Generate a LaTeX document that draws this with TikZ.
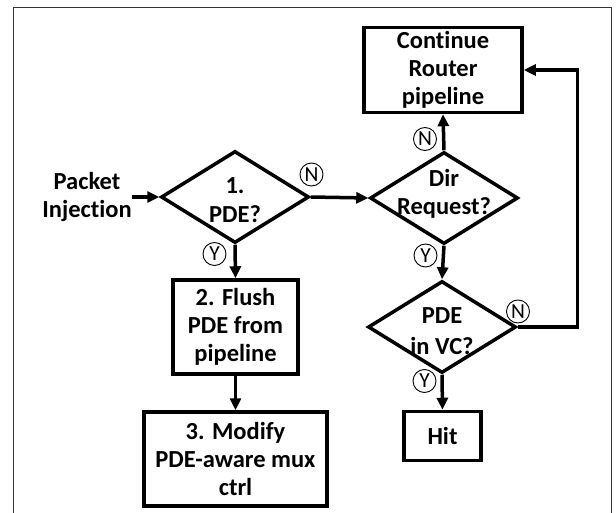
\documentclass[tikz,border=0pt]{standalone}
\usepackage{fontspec}
\setmainfont{Carlito}[Ligatures=NoCommon]
\usetikzlibrary{shapes.geometric,arrows.meta}
\begin{document}
\begin{tikzpicture}[x=1pt,y=-1pt,
  txt/.style={align=center,inner sep=0pt,font=\bfseries\fontsize{24.5}{28.3}\selectfont},
  box/.style={txt,draw,rectangle,line width=3.5pt},
  dia/.style={draw,diamond,line width=3.5pt,inner sep=0pt},
  yn/.style={circle,draw,line width=0.9pt,inner sep=0pt,minimum size=23pt,
    font=\fontsize{21.5}{21.5}\selectfont},
  flow/.style={-{Triangle[length=12pt,width=11pt]},line width=3.5pt},
  frame/.style={draw=black!80,line width=1.4pt}]
\useasboundingbox (0,0) rectangle (616,513);
\clip (0,0) rectangle (616,513);
\draw[frame] (13.5,7.5) rectangle (611.5,540);

% left column
\node[txt] (inj) at (87,197) {Packet\\Injection};
\node[dia,minimum width=148,minimum height=92] (pde) at (235,197) {};
\node[txt] (pdet) at (235,200) {1.\\PDE?};
\node[box,minimum width=125,minimum height=94] (flush) at (235.5,327) {2. Flush\\PDE from\\pipeline};
\node[box,minimum width=183,minimum height=94] (mod) at (235.5,459) {3. Modify\\PDE-aware mux\\ctrl};

% right column
\node[box,minimum width=158,minimum height=85] (cont) at (443,70) {Continue\\Router\\pipeline};
\node[dia,minimum width=148,minimum height=92] (dir) at (444,198) {};
\node[txt] (dirt) at (444,194) {Dir\\Request?};
\node[dia,minimum width=148,minimum height=92] (vc) at (442,327) {};
\node[txt,font=\bfseries\fontsize{24.5}{31}\selectfont] (vct) at (442,331) {PDE\\in VC?};
\node[box,minimum width=77,minimum height=49] (hit) at (442.5,436) {Hit};

% decision outcomes
\node[yn] (n1) at (311.5,174.5) {N};
\node[yn] (y1) at (214.5,254) {Y};
\node[yn] (n2) at (425,139) {N};
\node[yn] (y2) at (425.5,255.5) {Y};
\node[yn] (n3) at (518,311.5) {N};
\node[yn] (y3) at (424.5,381) {Y};

% connectors
\coordinate (loop) at (577.5,70);
\draw[flow] (inj.east) -- (pde.west);
\draw[flow] (pde.east) -- (dir.west);
\draw[flow] (pde.south) -- (flush.north);
\draw[flow] (flush.south) -- (mod.north);
\draw[flow] (dir.north) -- (cont.south);
\draw[flow] (dir.south) -- (vc.north);
\draw[flow] (vc.south) -- (hit.north);
\draw[flow] (vc.east) -| (loop) -- (cont.east);
\end{tikzpicture}
\end{document}
